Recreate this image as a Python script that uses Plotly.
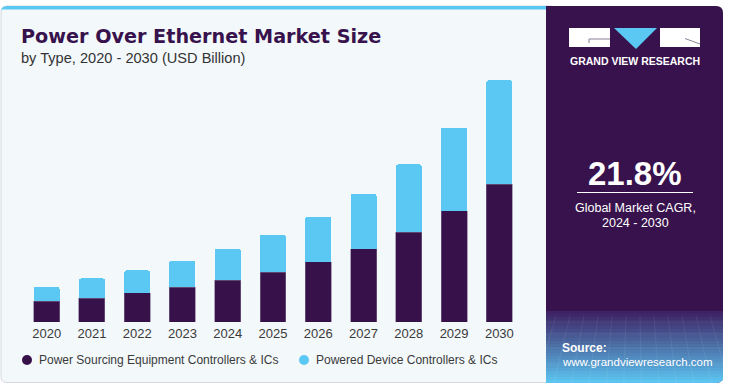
import plotly.graph_objects as go

years = ["2020", "2021", "2022", "2023", "2024", "2025", "2026", "2027", "2028", "2029", "2030"]
pse_controllers = [0.44, 0.50, 0.62, 0.74, 0.88, 1.05, 1.27, 1.55, 1.90, 2.35, 2.91]
pd_controllers = [0.30, 0.42, 0.47, 0.56, 0.67, 0.79, 0.96, 1.16, 1.43, 1.76, 2.20]
series_names = ["Power Sourcing Equipment Controllers & ICs", "Powered Device Controllers & ICs"]
highlight_year = "2023"
highlight_label = "$1.3B"
cagr_text = "21.8%"
cagr_caption = ["Global Market CAGR,", "2024 - 2030"]

DARK = "#37114A"
LIGHT = "#5BC8F4"
PANEL = "#38124C"
TXT = "#3a3a3a"

W, H = 730, 388
L, T, PW, PH = 24, 70, 498, 252


def px(x):
    return (x - L) / PW


def py(y):
    return (T + PH - y) / PH


def rrect(x0, y0, x1, y1, r_tl=0, r_tr=0, r_br=0, r_bl=0):
    pts = []
    pts.append(f"M{px(x0 + r_tl)},{py(y0)}")
    pts.append(f"L{px(x1 - r_tr)},{py(y0)}")
    if r_tr:
        pts.append(f"Q{px(x1)},{py(y0)} {px(x1)},{py(y0 + r_tr)}")
    pts.append(f"L{px(x1)},{py(y1 - r_br)}")
    if r_br:
        pts.append(f"Q{px(x1)},{py(y1)} {px(x1 - r_br)},{py(y1)}")
    pts.append(f"L{px(x0 + r_bl)},{py(y1)}")
    if r_bl:
        pts.append(f"Q{px(x0)},{py(y1)} {px(x0)},{py(y1 - r_bl)}")
    pts.append(f"L{px(x0)},{py(y0 + r_tl)}")
    if r_tl:
        pts.append(f"Q{px(x0)},{py(y0)} {px(x0 + r_tl)},{py(y0)}")
    pts.append("Z")
    return " ".join(pts)


fig = go.Figure()
fig.add_trace(go.Bar(x=years, y=pse_controllers, name=series_names[0], marker_color=DARK,
                     marker_line=dict(width=0.6, color="#7d6a8c"), showlegend=False))
fig.add_trace(go.Bar(x=years, y=pd_controllers, name=series_names[1], marker_color=LIGHT,
                     marker_line=dict(width=0), showlegend=False))

shapes = []
# left panel
shapes.append(dict(type="path", xref="paper", yref="paper", layer="below",
                   path=rrect(1, 6, 552, 382.5, 6, 0, 0, 6),
                   fillcolor="#F3F8FB", line=dict(color="#d3d9de", width=1)))
# top blue stripe
shapes.append(dict(type="path", xref="paper", yref="paper", layer="below",
                   path=rrect(1, 6, 547, 9.5, 6, 0, 0, 0),
                   fillcolor=LIGHT, line=dict(width=0)))
# right panel
shapes.append(dict(type="path", xref="paper", yref="paper", layer="below",
                   path=rrect(546, 6, 723, 383, 0, 7, 7, 0),
                   fillcolor=PANEL, line=dict(width=0)))
# gradient at bottom of right panel
n = 24
y_start, y_end = 311, 383
c0 = (62, 34, 100)
c1 = (92, 196, 240)
for i in range(n):
    t = i / (n - 1)
    c = tuple(int(c0[k] + (c1[k] - c0[k]) * t) for k in range(3))
    ya = y_start + (y_end - y_start) * i / n
    yb = y_start + (y_end - y_start) * (i + 1) / n + 0.4
    last = i == n - 1
    shapes.append(dict(type="path", xref="paper", yref="paper", layer="below",
                       path=rrect(546, ya, 723, min(yb, 383), 0, 0, 7 if last else 0, 0),
                       fillcolor=f"rgb{c}", line=dict(width=0)))
# faint mesh texture
for xx in range(556, 723, 14):
    shapes.append(dict(type="line", xref="paper", yref="paper", layer="below",
                       x0=px(xx), x1=px(xx + (xx - 635) * 0.25), y0=py(316), y1=py(383),
                       line=dict(color="rgba(255,255,255,0.07)", width=1)))
for yy in [322, 334, 348, 364]:
    shapes.append(dict(type="line", xref="paper", yref="paper", layer="below",
                       x0=px(546), x1=px(723), y0=py(yy), y1=py(yy),
                       line=dict(color="rgba(255,255,255,0.07)", width=1)))
# logo
shapes.append(dict(type="rect", xref="paper", yref="paper", x0=px(569), x1=px(610), y0=py(28), y1=py(47),
                   fillcolor="white", line=dict(width=0)))
shapes.append(dict(type="path", xref="paper", yref="paper",
                   path=f"M{px(614)},{py(28)} L{px(657)},{py(28)} L{px(636)},{py(49)} Z",
                   fillcolor=LIGHT, line=dict(width=0)))
shapes.append(dict(type="rect", xref="paper", yref="paper", x0=px(660), x1=px(700), y0=py(28), y1=py(47),
                   fillcolor="white", line=dict(width=0)))
shapes.append(dict(type="path", xref="paper", yref="paper",
                   path=f"M{px(589)},{py(43)} L{px(589)},{py(39)} L{px(610)},{py(39)}",
                   line=dict(color="#8a7f96", width=1)))
shapes.append(dict(type="line", xref="paper", yref="paper", x0=px(685), x1=px(700), y0=py(38.5), y1=py(44),
                   line=dict(color="#8a7f96", width=1)))
# CAGR divider
shapes.append(dict(type="line", xref="paper", yref="paper", x0=px(577), x1=px(693), y0=py(192.5), y1=py(192.5),
                   line=dict(color="white", width=1)))
# legend markers
shapes.append(dict(type="circle", xref="paper", yref="paper", x0=px(22), x1=px(32), y0=py(355), y1=py(365),
                   fillcolor=DARK, line=dict(width=0)))
shapes.append(dict(type="circle", xref="paper", yref="paper", x0=px(299), x1=px(309), y0=py(355), y1=py(365),
                   fillcolor=LIGHT, line=dict(width=0)))

FONT = "Liberation Sans, Arial, sans-serif"
TITLE_FONT = "DejaVu Sans, Liberation Sans, sans-serif"


def ann(text, x, y, size, color, xanchor="left", bold=False, family=FONT):
    return dict(text=f"<b>{text}</b>" if bold else text, xref="paper", yref="paper",
                x=px(x), y=py(y), xanchor=xanchor, yanchor="middle", showarrow=False,
                font=dict(family=family, size=size, color=color))


annotations = [
    ann("Power Over Ethernet Market Size", 19, 36.5, 19.2, "#38124C", bold=True, family=TITLE_FONT),
    ann("by Type, 2020 - 2030 (USD Billion)", 19, 58.5, 14.6, "#333333"),
    ann(series_names[0], 37, 360, 12, TXT),
    ann(series_names[1], 314, 360, 12, TXT),
    ann("GRAND VIEW RESEARCH", 635, 61, 10.5, "white", xanchor="center", bold=True),
    ann(cagr_text, 635, 173, 33, "white", xanchor="center", bold=True),
    ann(cagr_caption[0], 635, 208, 12.5, "white", xanchor="center"),
    ann(cagr_caption[1], 635, 223, 12.5, "white", xanchor="center"),
    ann("Source:", 560, 348, 12, "white", bold=True),
    ann("www.grandviewresearch.com", 560, 362, 11.5, "white"),
]
idx = years.index(highlight_year)
annotations.append(dict(text=highlight_label, x=highlight_year, y=pse_controllers[idx] + pd_controllers[idx],
                        xref="x", yref="y", xanchor="center", yanchor="bottom", yshift=7, showarrow=False,
                        font=dict(family=FONT, size=13, color=TXT)))

fig.update_layout(
    width=W, height=H,
    margin=dict(l=L, r=W - L - PW, t=T, b=H - T - PH, pad=0),
    paper_bgcolor="white", plot_bgcolor="rgba(0,0,0,0)",
    barmode="stack", bargap=0.426, barcornerradius=2,
    showlegend=False,
    shapes=shapes, annotations=annotations,
    font=dict(family=FONT),
    xaxis=dict(type="category", range=[-0.5, 10.5], showgrid=False, zeroline=False, showline=False,
               ticks="", ticklabelstandoff=2, tickfont=dict(family=FONT, size=13, color=TXT)),
    yaxis=dict(range=[0, PH / 47.3], visible=False, showgrid=False, zeroline=False),
)

fig.write_html("out.html", config={"displayModeBar": False},
               post_script="document.body.style.margin='0';document.body.style.overflow='hidden';")
